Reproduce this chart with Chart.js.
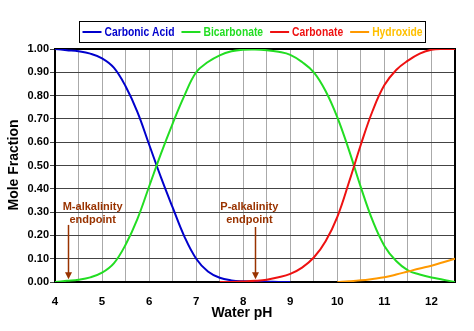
<!DOCTYPE html>
<html>
<head>
<meta charset="utf-8">
<script src="https://cdn.jsdelivr.net/npm/chart.js@4/dist/chart.umd.min.js"></script>
<style>
  html, body { margin: 0; padding: 0; background: #fff; }
  #c { display: block; }
</style>
</head>
<body>
<canvas id="c" width="474" height="331"></canvas>
<script>
// Carbonate system speciation versus pH (mole fractions)
const phValues = [4, 4.25, 4.5, 4.75, 5, 5.25, 5.5, 5.75, 6, 6.25, 6.5, 6.75, 7, 7.25, 7.5, 7.75,
  8, 8.25, 8.5, 8.75, 9, 9.25, 9.5, 9.75, 10, 10.25, 10.5, 10.75, 11, 11.25, 11.5, 11.75, 12, 12.25, 12.5];

const carbonicAcid = [1.00, 0.995, 0.99, 0.98, 0.96, 0.92, 0.84, 0.73, 0.59, 0.45, 0.32, 0.195, 0.10, 0.045, 0.018, 0.007,
  0.003, 0.002, 0.001, 0.0005, 0.0, null, null, null, null, null, null, null, null, null, null, null, null, null, null];

const bicarbonate = [0.0, 0.005, 0.01, 0.02, 0.04, 0.08, 0.16, 0.27, 0.41, 0.55, 0.68, 0.80, 0.90, 0.944, 0.973, 0.99,
  0.997, 0.998, 0.995, 0.988, 0.975, 0.944, 0.90, 0.82, 0.707, 0.564, 0.406, 0.263, 0.155, 0.09, 0.05, 0.032, 0.019, 0.01, 0.0];

const carbonate = [null, null, null, null, null, null, null, null, null, null, null, null, null, null, 0.0, 0.0,
  0.002, 0.005, 0.01, 0.02, 0.035, 0.062, 0.105, 0.175, 0.28, 0.43, 0.59, 0.735, 0.845, 0.91, 0.95, 0.98, 0.997, 1.0, 1.0];

const hydroxide = [null, null, null, null, null, null, null, null, null, null, null, null, null, null, null, null,
  null, null, null, null, null, null, null, null, 0.0, 0.003, 0.007, 0.013, 0.02, 0.032, 0.045, 0.058, 0.07, 0.085, 0.10];

const seriesNames = ['Carbonic Acid', 'Bicarbonate', 'Carbonate', 'Hydroxide'];
const lineColors = ['#0000CC', '#22DD22', '#EE1111', '#FF9900'];
const legendTextColors = ['#0000CC', '#22DD22', '#EE1111', '#FFC000'];

// Titration endpoint callouts
const endpointNotes = [
  { lines: ['M-alkalinity', 'endpoint'], textPh: 4.8, textValue: 0.322, arrowPh: 4.27, arrowTop: 0.245, arrowTip: 0.012 },
  { lines: ['P-alkalinity', 'endpoint'], textPh: 8.13, textValue: 0.322, arrowPh: 8.25, arrowTop: 0.236, arrowTip: 0.012 }
];

const FONT = '"Liberation Sans", Arial, Helvetica, sans-serif';
const NOTE_COLOR = '#993300';

function toPoints(values) {
  return phValues.map((p, i) => ({ x: p, y: values[i] })).filter(pt => pt.y !== null);
}

const allSeries = [carbonicAcid, bicarbonate, carbonate, hydroxide];
const datasets = allSeries.map((vals, i) => ({
  label: seriesNames[i],
  data: toPoints(vals),
  borderColor: lineColors[i],
  backgroundColor: lineColors[i],
  borderWidth: 2,
  pointRadius: 0,
  tension: 0.4,
  fill: false,
  order: 4 - i
}));

const decorations = {
  id: 'decorations',
  beforeDraw(chart) {
    const ctx = chart.ctx;
    ctx.save();
    ctx.fillStyle = '#fff';
    ctx.fillRect(0, 0, chart.width, chart.height);
    ctx.restore();
  },
  beforeDatasetsDraw(chart) {
    const { ctx, chartArea: a } = chart;
    ctx.save();
    ctx.strokeStyle = '#000';
    ctx.lineWidth = 2;
    ctx.strokeRect(a.left, a.top, a.right - a.left, a.bottom - a.top);
    ctx.restore();
  },
  afterDatasetsDraw(chart) {
    const { ctx, scales: { x, y } } = chart;
    ctx.save();
    ctx.fillStyle = NOTE_COLOR;
    ctx.strokeStyle = NOTE_COLOR;
    ctx.font = `bold 11px ${FONT}`;
    ctx.textAlign = 'center';
    ctx.textBaseline = 'middle';
    endpointNotes.forEach(n => {
      const tx = x.getPixelForValue(n.textPh);
      const ty = y.getPixelForValue(n.textValue);
      n.lines.forEach((ln, k) => ctx.fillText(ln, tx, ty + k * 13));
      const ax = Math.round(x.getPixelForValue(n.arrowPh)) + 0.5;
      const top = y.getPixelForValue(n.arrowTop);
      const tip = y.getPixelForValue(n.arrowTip);
      ctx.lineWidth = 1.5;
      ctx.beginPath();
      ctx.moveTo(ax, top);
      ctx.lineTo(ax, tip - 5);
      ctx.stroke();
      ctx.beginPath();
      ctx.moveTo(ax - 3.5, tip - 7);
      ctx.lineTo(ax + 3.5, tip - 7);
      ctx.lineTo(ax, tip);
      ctx.closePath();
      ctx.fill();
    });
    ctx.restore();
  },
  afterDraw(chart) {
    const ctx = chart.ctx;
    ctx.save();
    // axis titles
    ctx.fillStyle = '#000';
    ctx.font = `bold 14px ${FONT}`;
    ctx.textAlign = 'center';
    ctx.textBaseline = 'middle';
    ctx.fillText('Water pH', 242, 313);
    ctx.translate(14, 165);
    ctx.rotate(-Math.PI / 2);
    ctx.fillText('Mole Fraction', 0, 0);
    ctx.restore();

    // legend box: slightly condensed bold text
    ctx.save();
    const sx = 0.86;
    ctx.font = `bold 12px ${FONT}`;
    const lineLen = 19, gapIn = 3, gapOut = 7, pad = 3;
    const widths = seriesNames.map(s => ctx.measureText(s).width * sx);
    const total = pad * 2 + widths.reduce((s, w) => s + w + lineLen + gapIn, 0) + gapOut * (seriesNames.length - 1);
    const cx = 252.5, top = 21, h = 21;
    const left = Math.round(cx - total / 2) + 0.5;
    ctx.strokeStyle = '#000';
    ctx.lineWidth = 1;
    ctx.strokeRect(left, top + 0.5, Math.round(total), h);
    const midY = top + h / 2 + 0.5;
    let px = left + pad;
    ctx.textBaseline = 'middle';
    ctx.textAlign = 'left';
    seriesNames.forEach((s, i) => {
      ctx.strokeStyle = lineColors[i];
      ctx.lineWidth = 2;
      ctx.beginPath();
      ctx.moveTo(px, midY);
      ctx.lineTo(px + lineLen, midY);
      ctx.stroke();
      px += lineLen + gapIn;
      ctx.save();
      ctx.translate(px, midY + 0.5);
      ctx.scale(sx, 1);
      ctx.fillStyle = legendTextColors[i];
      ctx.fillText(s, 0, 0);
      ctx.restore();
      px += widths[i] + gapOut;
    });
    ctx.restore();
  }
};

new Chart(document.getElementById('c'), {
  type: 'line',
  data: { datasets },
  options: {
    responsive: false,
    animation: false,
    devicePixelRatio: 1,
    layout: { padding: { top: 49, right: 19, left: 0, bottom: 0 } },
    plugins: {
      legend: { display: false },
      tooltip: { enabled: false }
    },
    scales: {
      x: {
        type: 'linear',
        min: 4,
        max: 12.5,
        afterFit(s) { s.height = 49; },
        grid: { color: '#aaaaaa', lineWidth: 1, drawTicks: false },
        border: { color: '#000', width: 2 },
        ticks: {
          stepSize: 0.5,
          autoSkip: false,
          maxRotation: 0,
          padding: 13,
          color: '#000',
          font: { family: FONT, size: 11.5, weight: 'bold' },
          callback: v => Number.isInteger(v) ? String(v) : ''
        }
      },
      y: {
        min: 0,
        max: 1,
        afterFit(s) { s.width = 55; },
        grid: { color: '#444444', lineWidth: 1, tickLength: 5 },
        border: { color: '#000', width: 2 },
        ticks: {
          stepSize: 0.1,
          padding: 1,
          color: '#000',
          font: { family: FONT, size: 11, weight: 'bold' },
          callback: v => Number(v).toFixed(2)
        }
      }
    }
  },
  plugins: [decorations]
});
</script>
</body>
</html>
